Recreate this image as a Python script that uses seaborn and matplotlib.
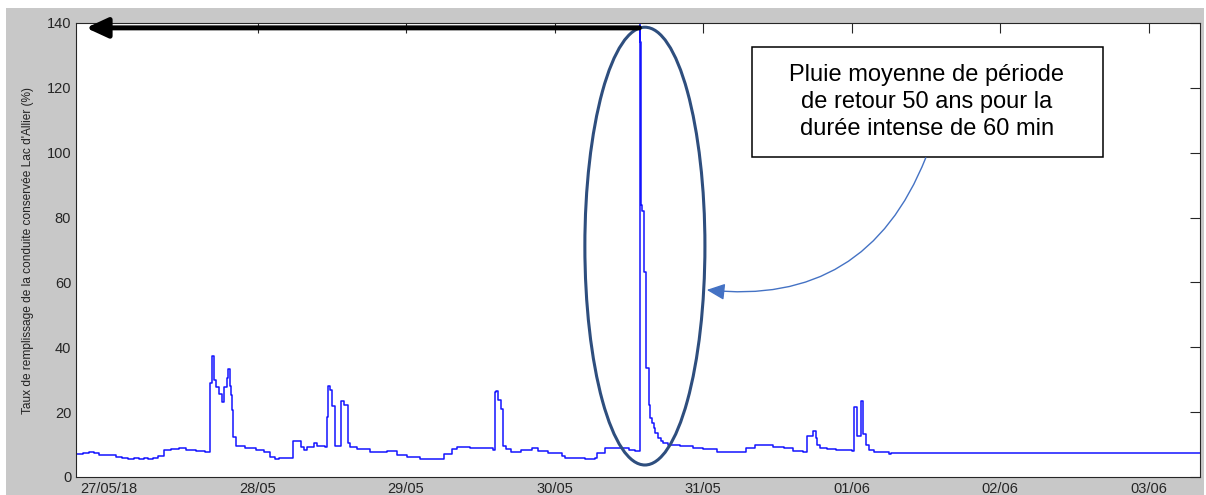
import matplotlib
matplotlib.use("Agg")
import matplotlib.dates as mdates
import matplotlib.pyplot as plt
from matplotlib.patches import Ellipse, Rectangle
import pandas as pd
import seaborn as sns

# hours after 27/05/2018 00:00 at which the level changes, and the level (%)
HOURS = [
    -5.4, -4.2, -3.2, -2.4, -1.6, 1.1, 2.1, 3.0, 4.0, 4.8, 5.6, 6.3, 7.1, 7.9,
    8.9, 10.0, 11.3, 12.5, 14.0, 15.5, 16.4, 16.7, 17.0, 17.3, 17.7, 18.2,
    18.6, 19.0, 19.2, 19.5, 19.7, 19.85, 20.0, 20.6, 22.0, 23.8, 25.0, 26.0,
    26.8, 27.5, 29.8, 31.0, 31.5, 32.0, 33.1, 33.6, 34.9, 35.2, 35.4, 35.7,
    36.0, 36.6, 37.5, 37.9, 38.6, 39.0, 40.1, 42.2, 44.9, 46.5, 48.1, 50.3,
    54.2, 55.4, 56.2, 58.4, 60.5, 62.1, 62.4, 62.6, 62.9, 63.3, 63.6, 64.2,
    65.0, 66.6, 68.3, 69.3, 71.0, 73.2, 73.7, 76.9, 78.6, 78.9, 80.2, 82.3,
    84.0, 85.0, 85.75, 85.8, 85.85, 85.9, 85.95, 86.0, 86.05, 86.2, 86.4,
    86.8, 87.2, 87.5, 87.7, 88.0, 88.3, 88.7, 89.2, 89.6, 90.4, 92.2, 94.4,
    96.0, 98.2, 102.2, 103.0, 104.4, 107.1, 107.3, 108.7, 109.0, 110.6,
    112.2, 112.8, 113.8, 114.2, 114.4, 114.9, 116.0, 117.4, 120.1, 120.4,
    120.8, 121.5, 121.9, 122.3, 122.8, 123.6, 126.1, 126.4, 176.5,
]
TAUX = [
    7.0, 7.3, 7.8, 7.5, 6.8, 6.3, 5.8, 5.5, 5.9, 5.6, 6.0, 5.5, 5.8, 6.5,
    8.3, 8.6, 8.8, 8.4, 8.1, 7.6, 29.0, 37.3, 30.0, 27.8, 25.5, 23.2,
    27.8, 30.5, 33.2, 28.0, 25.3, 20.7, 12.4, 9.6, 9.0, 8.3, 7.6, 6.1,
    5.6, 5.8, 11.2, 9.2, 8.4, 9.2, 10.4, 9.6, 9.2, 18.6, 28.1, 26.8,
    21.9, 9.6, 23.5, 22.2, 10.6, 9.2, 8.6, 7.8, 8.0, 6.8, 6.1, 5.55,
    7.1, 8.5, 9.2, 9.0, 8.8, 8.3, 26.3, 26.6, 23.7, 20.9, 9.6, 8.5,
    7.8, 8.3, 8.8, 8.0, 7.5, 6.5, 5.75, 5.5, 5.8, 7.3, 9.0, 8.8,
    8.3, 8.1, 139.4, 122.0, 134.0, 124.0, 132.0, 125.0, 84.0, 82.0, 63.3,
    33.5, 22.2, 18.1, 16.5, 15.0, 13.5, 11.9, 11.2, 10.6, 9.9, 9.6, 8.8,
    8.5, 7.8, 7.8, 8.8, 9.8, 9.8, 9.3, 9.4, 8.8, 8.1,
    7.8, 12.6, 14.3, 11.9, 9.9, 8.8, 8.5, 8.3, 8.0, 21.5,
    12.6, 23.5, 13.4, 9.9, 8.3, 7.8, 7.1, 7.5, 7.4,
]
DAY_TICKS = ["2018-05-27", "2018-05-28", "2018-05-29", "2018-05-30",
             "2018-05-31", "2018-06-01", "2018-06-02", "2018-06-03"]
DAY_LABELS = ["27/05/18", "28/05", "29/05", "30/05", "31/05", "01/06", "02/06", "03/06"]
Y_TICKS = [0, 20, 40, 60, 80, 100, 120, 140]
ANNOTATION = "Pluie moyenne de période\nde retour 50 ans pour la\ndurée intense de 60 min"

T0 = pd.Timestamp("2018-05-27")
df = pd.DataFrame({
    "time": T0 + pd.to_timedelta(HOURS, unit="h"),
    "taux": TAUX,
})


def at(hours):
    # position on the date axis, as a matplotlib date number
    return mdates.date2num(T0 + pd.Timedelta(hours=hours))


sns.set_style("white")
plt.rcParams["font.family"] = ["Liberation Sans", "DejaVu Sans"]

W, H = 1206, 495
fig = plt.figure(figsize=(W / 100, H / 100), dpi=100, facecolor="white")
fig.patches.append(Rectangle((6 / W, 0), (1204 - 6) / W, 487 / H,
                             transform=fig.transFigure, facecolor="#c8c8c8",
                             edgecolor="none", zorder=-10))
ax = fig.add_axes([76 / W, (H - 477) / H, 1124 / W, 454 / H])
ax.set_facecolor("white")

sns.lineplot(data=df, x="time", y="taux", ax=ax, estimator=None,
             drawstyle="steps-post", color="#1414ff", lw=1.1)

ax.set_xlim(at(-5.33), at(176.3))
ax.set_ylim(0, 140)
ax.set_xticks([mdates.date2num(pd.Timestamp(d)) for d in DAY_TICKS])
ax.set_xticklabels(DAY_LABELS)
ax.set_yticks(Y_TICKS)
ax.tick_params(direction="in", length=7, width=0.8, top=True, right=True,
               labelsize=10.5, colors="#262626", pad=3.5)
for s in ax.spines.values():
    s.set_color("#262626")
    s.set_linewidth(0.8)
ax.set_xlabel("")
ax.set_ylabel("Taux de remplissage de la conduite conservée Lac d'Allier (%)",
              fontsize=8.6, color="#222222", labelpad=9)

# ellipse around the peak (width in days)
ax.add_patch(Ellipse((at(86.6), 71.2), 19.4 / 24, 135,
                     fill=False, edgecolor="#2e4e7e", lw=2.2, zorder=5,
                     clip_on=False))

# thick black arrow toward the 140 % level
ax.annotate("", xy=(at(-3.7), 138.5), xytext=(at(85.7), 138.5),
            arrowprops=dict(arrowstyle="-|>,head_length=1.3,head_width=0.6",
                            lw=3.6, color="black", shrinkA=0, shrinkB=0),
            annotation_clip=False, zorder=6)

# text box and connector
ax.add_patch(Rectangle((0.601, 0.705), 0.3125, 0.242, transform=ax.transAxes,
                       facecolor="white", edgecolor="black", lw=1.1, zorder=6))
ax.text(0.757, 0.826, ANNOTATION, transform=ax.transAxes, ha="center",
        va="center", fontsize=17, linespacing=1.3, color="black", zorder=7)
ax.annotate("", xy=(at(96.6), 57.7), xycoords="data",
            xytext=(0.756, 0.703), textcoords="axes fraction",
            arrowprops=dict(arrowstyle="-|>,head_length=1.1,head_width=0.5",
                            connectionstyle="arc3,rad=-0.38", lw=1.0,
                            color="#4472c4", shrinkA=0, shrinkB=0),
            annotation_clip=False, zorder=6)

fig.savefig("out.png", dpi=100, facecolor=fig.get_facecolor())
